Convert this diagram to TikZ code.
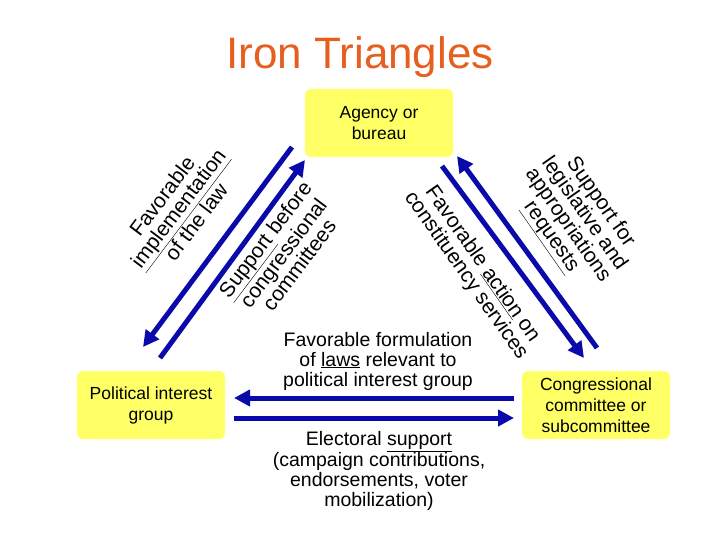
\documentclass[tikz,border=0pt]{standalone}
\usepackage{fontspec}
\setmainfont{Liberation Sans}
\usetikzlibrary{arrows.meta}
\definecolor{boxy}{RGB}{255,255,102}
\definecolor{arr}{RGB}{10,10,170}
\definecolor{ttl}{RGB}{230,95,30}
\begin{document}
\begin{tikzpicture}[x=1pt,y=-1pt,
  box/.style={fill=boxy,rounded corners=6pt,minimum width=148pt,minimum height=68pt,align=center,font=\fontsize{17.5}{21}\selectfont},
  bigarr/.style={draw=arr,line width=5pt,-{Triangle[length=16pt,width=16pt]}},
  lbl/.style={align=center,font=\fontsize{21}{20}\selectfont,inner sep=0pt}]
\useasboundingbox (0,0) rectangle (720,540);
\node[font=\fontsize{44}{48}\selectfont,text=ttl] (title) at (360,57) {Iron Triangles};
\node[box] (ag) at (379,123) {Agency or\\bureau};
\node[box] (pi) at (151,405) {Political interest\\group};
\node[box] (cc) at (596,405) {Congressional\\committee or\\subcommittee};
\coordinate (a1) at (292,147); \coordinate (a2) at (143,347);
\coordinate (b1) at (160,358); \coordinate (b2) at (305,160);
\coordinate (c1) at (442,166); \coordinate (c2) at (584,358);
\coordinate (d1) at (597,348); \coordinate (d2) at (457,156);
\coordinate (e1) at (514,398); \coordinate (e2) at (234,398);
\coordinate (f1) at (234,418); \coordinate (f2) at (514,418);
\draw[bigarr] (a1) -- (a2);
\draw[bigarr] (b1) -- (b2);
\draw[bigarr] (c1) -- (c2);
\draw[bigarr] (d1) -- (d2);
\draw[bigarr] (e1) -- (e2);
\draw[bigarr] (f1) -- (f2);
\node[lbl,rotate=53] (l1) at (179,209) {Favorable\\\underline{implementation}\\of the law};
\node[lbl,rotate=53] (l2) at (282,252) {\underline{Support} before\\congressional\\committees};
\node[lbl,rotate=-55] (l3) at (474,270) {Favorable \underline{action} on\\constituency services};
\node[lbl,rotate=-55] (l4) at (575,220) {Support for\\legislative and\\appropriations\\\underline{requests}};
\node[lbl,font=\fontsize{19.5}{20}\selectfont] (l5) at (378,361) {Favorable formulation\\of \underline{laws} relevant to\\political interest group};
\node[lbl,font=\fontsize{19.5}{20}\selectfont] (l6) at (379,471) {Electoral \underline{support}\\(campaign contributions,\\endorsements, voter\\mobilization)};
\end{tikzpicture}
\end{document}
